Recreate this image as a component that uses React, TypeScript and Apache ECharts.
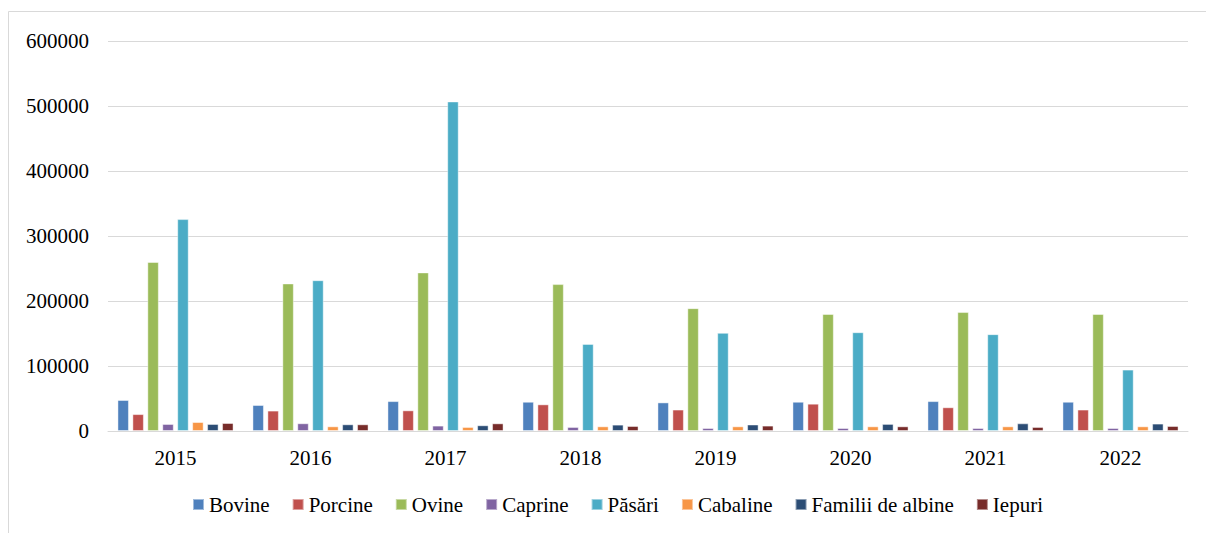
import React, { useEffect, useRef } from "react";
import * as echarts from "echarts";

const years = ["2015", "2016", "2017", "2018", "2019", "2020", "2021", "2022"];
const seriesNames = ["Bovine", "Porcine", "Ovine", "Caprine", "Păsări", "Cabaline", "Familii de albine", "Iepuri"];
const bovine = [47700, 40000, 46000, 45000, 44000, 45000, 46000, 45000];
const porcine = [26000, 31400, 31800, 41000, 33000, 42000, 36500, 33000];
const ovine = [260000, 227000, 244000, 226000, 189000, 180000, 183000, 180000];
const caprine = [10800, 11900, 8300, 6200, 4600, 4600, 4600, 4600];
const pasari = [326000, 232000, 507000, 134000, 151000, 152000, 149000, 94500];
const cabaline = [13800, 7200, 6200, 7200, 7200, 7200, 7200, 7200];
const albine = [10800, 10300, 8800, 9800, 10000, 10900, 11800, 11400];
const iepuri = [12300, 10300, 11800, 7700, 8300, 7200, 6200, 7700];
const colors = ["#4F81BD", "#C0504D", "#9BBB59", "#8064A2", "#4BACC6", "#F79646", "#2C4D75", "#772C2A"];

export default function App() {
  const ref = useRef<HTMLDivElement>(null);
  useEffect(() => {
    if (!ref.current) return;
    const chart = echarts.init(ref.current, null, { renderer: "svg" });
    const data = [bovine, porcine, ovine, caprine, pasari, cabaline, albine, iepuri];
    const font = "Liberation Serif";
    chart.setOption({
      animation: false,
      color: colors,
      textStyle: { fontFamily: font },
      graphic: [
        {
          type: "rect",
          shape: { x: 8.5, y: 11.5, width: 1300, height: 600 },
          style: { fill: "none", stroke: "#d9d9d9", lineWidth: 1 },
          silent: true,
        },
      ],
      grid: { left: 108, right: 18, top: 41, bottom: 102, containLabel: false },
      legend: {
        top: 494,
        left: 192,
        padding: 0,
        icon: "rect",
        itemWidth: 11,
        itemHeight: 11,
        itemGap: 22,
        textStyle: { fontSize: 21, fontFamily: font, color: "#000" },
        data: seriesNames,
      },
      xAxis: {
        type: "category",
        data: years,
        axisTick: { show: false },
        axisLine: { lineStyle: { color: "#d9d9d9", width: 1 } },
        axisLabel: { fontSize: 21, fontFamily: font, color: "#000", margin: 16 },
      },
      yAxis: {
        type: "value",
        min: 0,
        max: 600000,
        interval: 100000,
        axisLine: { show: false },
        axisTick: { show: false },
        splitLine: { lineStyle: { color: "#d9d9d9", width: 1 } },
        axisLabel: {
          fontSize: 21,
          fontFamily: font,
          color: "#000",
          margin: 19,
          formatter: (v: number) => String(v),
        },
      },
      series: seriesNames.map((name, i) => ({
        name,
        type: "bar",
        data: data[i],
        barGap: "30%",
        barCategoryGap: "14%",
        itemStyle: { color: colors[i], borderColor: "rgba(255,255,255,0.45)", borderWidth: 1 },
      })),
    });
    return () => chart.dispose();
  }, []);
  return (
    <div
      ref={ref}
      style={{ position: "absolute", left: 0, top: 0, width: 1206, height: 533, background: "#fff" }}
    />
  );
}
